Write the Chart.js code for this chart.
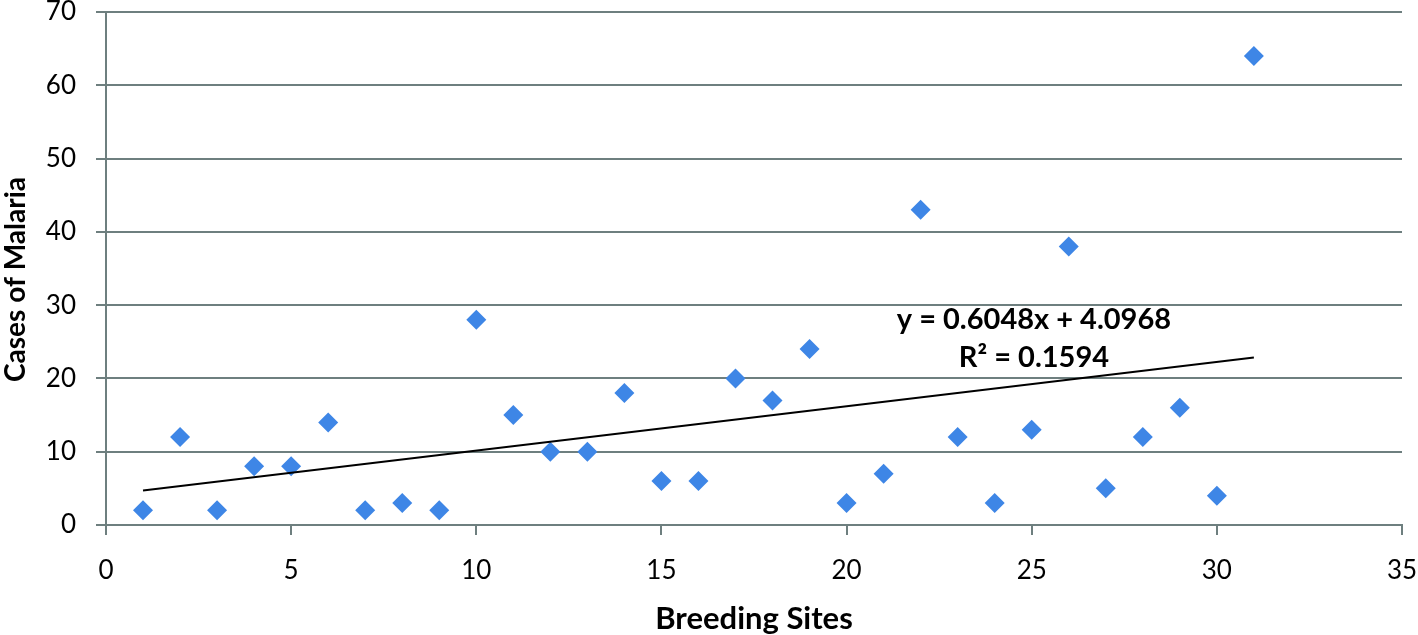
<!DOCTYPE html>
<html><head><meta charset="utf-8">
<script src="https://cdn.jsdelivr.net/npm/chart.js@4.4.0/dist/chart.umd.min.js"></script>
<style>html,body{margin:0;padding:0;background:#fff}#wrap{width:1418px;height:635px}</style>
</head><body><div id="wrap"><canvas id="c" width="1418" height="635"></canvas></div>
<script>
const breedingSites = [1,2,3,4,5,6,7,8,9,10,11,12,13,14,15,16,17,18,19,20,21,22,23,24,25,26,27,28,29,30,31];
const malariaCases = [2,12,2,8,8,14,2,3,2,28,15,10,10,18,6,6,20,17,24,3,7,43,12,3,13,38,5,12,16,4,64];
const trendSlope = 0.6048;
const trendIntercept = 4.0968;
const equationLabels = ["y = 0.6048x + 4.0968", "R\u00b2 = 0.1594"];
const xTitle = "Breeding Sites";
const yTitle = "Cases of Malaria";

const pts = breedingSites.map((x,i)=>({x:x,y:malariaCases[i]}));
const xMin = Math.min(...breedingSites), xMax = Math.max(...breedingSites);
const trend = [{x:xMin,y:trendSlope*xMin+trendIntercept},{x:xMax,y:trendSlope*xMax+trendIntercept}];

const FONT = "Lato, 'Open Sans', sans-serif";
const gridColor = '#6e7f7f';

const eqPlugin = {
  id:'eq',
  afterDatasetsDraw(chart){
    const {ctx, scales:{x,y}} = chart;
    ctx.save();
    ctx.fillStyle = '#000';
    ctx.font = "bold 29px " + FONT;
    ctx.textAlign = 'center';
    ctx.textBaseline = 'middle';
    ctx.fillText(equationLabels[0], x.getPixelForValue(25.06), y.getPixelForValue(28.0));
    ctx.fillText(equationLabels[1], x.getPixelForValue(25.06), y.getPixelForValue(22.9));
    // y axis title
    ctx.font = "bold 28px " + FONT;
    ctx.translate(16, y.getPixelForValue(33.5));
    ctx.rotate(-Math.PI/2);
    ctx.fillText(yTitle, 0, 0);
    ctx.restore();
  }
};

function noPad(s){ s.paddingTop = 0; s.paddingRight = 0; s.paddingLeft = 0; s.paddingBottom = 0; }

new Chart(document.getElementById('c'), {
  type:'scatter',
  data:{datasets:[
    {data:pts, pointStyle:'rectRot', pointRadius:10, pointHoverRadius:10,
     backgroundColor:'#3e86e6', borderColor:'#3e86e6', borderWidth:0, order:1},
    {type:'line', data:trend, borderColor:'#000', borderWidth:2, pointRadius:0, fill:false, order:0}
  ]},
  options:{
    responsive:false, animation:false,
    layout:{autoPadding:false, padding:{top:12,right:16,left:0,bottom:0}},
    plugins:{legend:{display:false}, tooltip:{enabled:false}},
    scales:{
      x:{type:'linear', min:0, max:35,
        ticks:{stepSize:5, color:'#000', font:{family:FONT,size:26}, padding:20},
        grid:{drawOnChartArea:false, drawTicks:true, tickLength:10, color:gridColor, lineWidth:2},
        border:{display:true, color:gridColor, width:2},
        title:{display:true, text:xTitle, color:'#000', font:{family:FONT,size:31,weight:'bold'}, padding:{top:16,bottom:-3}},
        afterFit(s){ s.height = 110; noPad(s); }
      },
      y:{type:'linear', min:0, max:70,
        ticks:{stepSize:10, color:'#000', font:{family:FONT,size:26}, padding:20},
        grid:{color:gridColor, lineWidth:2, tickLength:10, drawTicks:true},
        border:{display:true, color:gridColor, width:2},
        title:{display:false},
        afterFit(s){ s.width = 106; noPad(s); }
      }
    }
  },
  plugins:[eqPlugin]
});
</script></body></html>
